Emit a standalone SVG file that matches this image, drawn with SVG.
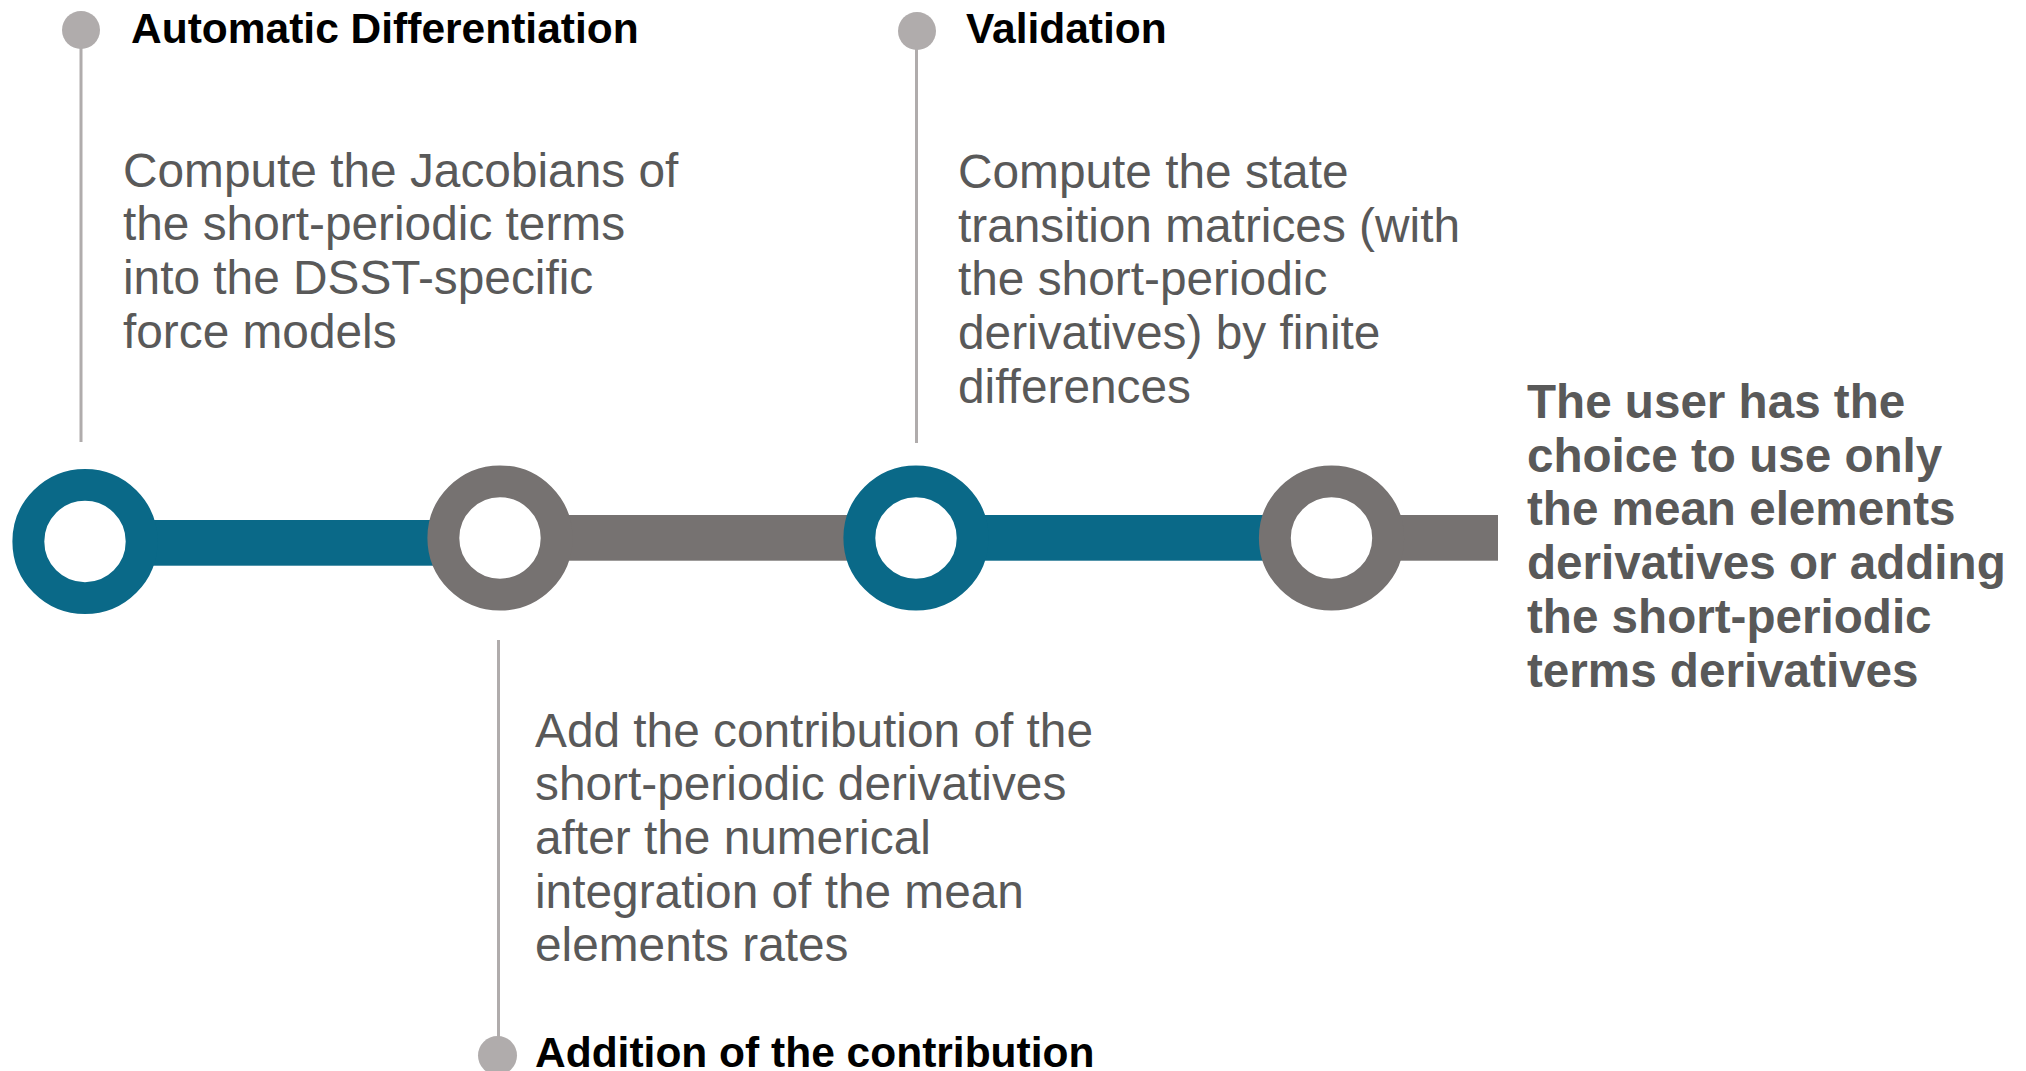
<svg xmlns="http://www.w3.org/2000/svg" width="2026" height="1071" viewBox="0 0 2026 1071">
  <style>
    .title { font-family: "Liberation Sans", Arial, Helvetica, sans-serif; font-weight: bold; font-size: 42.5px; fill: #000000; }
    .body { font-family: "Liberation Sans", Arial, Helvetica, sans-serif; font-size: 47.8px; fill: #595959; }
    .note { font-family: "Liberation Sans", Arial, Helvetica, sans-serif; font-weight: bold; font-size: 47.6px; fill: #595959; }
    .dot { fill: #b0acac; }
    .leader { stroke: #b0acac; stroke-width: 3; fill: none; }
    .ring { fill: #ffffff; stroke-width: 31.9; }
    .teal { stroke: #0a6988; }
    .grey { stroke: #767271; }
    .bar-teal { fill: #0a6988; }
    .bar-grey { fill: #767271; }
  </style>

  <rect width="2026" height="1071" fill="#ffffff"/>

  <!-- track segments and leader lines -->
  <g id="connectors">
    <rect class="bar-teal" x="85" y="520" width="415" height="45.7"/>
    <rect class="bar-grey" x="500" y="515" width="416" height="45.7"/>
    <rect class="bar-teal" x="916" y="515" width="415" height="45.7"/>
    <rect class="bar-grey" x="1331" y="515" width="167" height="45.7"/>
    <line class="leader" x1="81" y1="48" x2="81" y2="442"/>
    <line class="leader" x1="916.5" y1="48" x2="916.5" y2="443"/>
    <line class="leader" x1="498.5" y1="640" x2="498.5" y2="1040"/>
  </g>

  <!-- track rings -->
  <g id="ring-1"><circle class="ring teal" cx="85" cy="541.5" r="56.65"/></g>
  <g id="ring-2"><circle class="ring grey" cx="500" cy="538" r="56.65"/></g>
  <g id="ring-3"><circle class="ring teal" cx="916" cy="538" r="56.65"/></g>
  <g id="ring-4"><circle class="ring grey" cx="1331.5" cy="538" r="56.65"/></g>

  <!-- stage: automatic differentiation -->
  <g id="stage-automatic-differentiation">
    <circle class="dot" cx="81" cy="30" r="19"/>
    <text class="title" x="131" y="43">Automatic Differentiation</text>
    <text class="body" x="123" y="186.5">
      <tspan x="123" y="186.5">Compute the Jacobians of</tspan>
      <tspan x="123" y="240.2">the short-periodic terms</tspan>
      <tspan x="123" y="293.9">into the DSST-specific</tspan>
      <tspan x="123" y="347.6">force models</tspan>
    </text>
  </g>

  <!-- stage: addition of the contribution -->
  <g id="stage-addition">
    <circle class="dot" cx="497.5" cy="1055.5" r="19.5"/>
    <text class="title" x="535" y="1067">Addition of the contribution</text>
    <text class="body" x="535" y="746.5">
      <tspan x="535" y="746.5">Add the contribution of the</tspan>
      <tspan x="535" y="800.2">short-periodic derivatives</tspan>
      <tspan x="535" y="853.9">after the numerical</tspan>
      <tspan x="535" y="907.6">integration of the mean</tspan>
      <tspan x="535" y="961.3">elements rates</tspan>
    </text>
  </g>

  <!-- stage: validation -->
  <g id="stage-validation">
    <circle class="dot" cx="917" cy="31" r="19"/>
    <text class="title" x="966" y="43">Validation</text>
    <text class="body" x="958" y="188">
      <tspan x="958" y="188">Compute the state</tspan>
      <tspan x="958" y="241.7">transition matrices (with</tspan>
      <tspan x="958" y="295.4">the short-periodic</tspan>
      <tspan x="958" y="349.1">derivatives) by finite</tspan>
      <tspan x="958" y="402.8">differences</tspan>
    </text>
  </g>

  <!-- closing note -->
  <g id="note-user-choice">
    <text class="note" x="1527" y="418">
      <tspan x="1527" y="418">The user has the</tspan>
      <tspan x="1527" y="471.7">choice to use only</tspan>
      <tspan x="1527" y="525.4">the mean elements</tspan>
      <tspan x="1527" y="579.1">derivatives or adding</tspan>
      <tspan x="1527" y="632.8">the short-periodic</tspan>
      <tspan x="1527" y="686.5">terms derivatives</tspan>
    </text>
  </g>
</svg>
